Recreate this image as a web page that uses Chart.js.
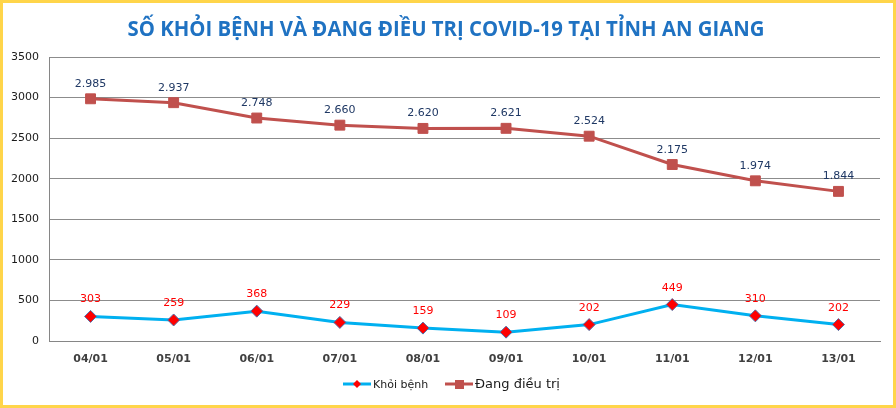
<!DOCTYPE html>
<html><head><meta charset="utf-8">
<script src="https://cdn.jsdelivr.net/npm/chart.js@4"></script>
<style>
html,body{margin:0;padding:0;background:#fff;}
#wrap{width:896px;height:408px;box-sizing:border-box;border:3px solid #FFD54A;position:relative;}
canvas{display:block;}
</style></head><body>
<div id="wrap"><canvas id="c" width="890" height="402"></canvas></div>
<script>
const titleText = 'SỐ KHỎI BỆNH VÀ ĐANG ĐIỀU TRỊ COVID-19 TẠI TỈNH AN GIANG';
const categories = ['04/01','05/01','06/01','07/01','08/01','09/01','10/01','11/01','12/01','13/01'];
const khoiBenh = [303,259,368,229,159,109,202,449,310,202];
const dangDieuTri = [2985,2937,2748,2660,2620,2621,2524,2175,1974,1844];
const yTicks = [0,500,1000,1500,2000,2500,3000,3500];

const FONT = '"DejaVu Sans", sans-serif';

function fmt(v){ return String(v).replace(/\B(?=(\d{3})+(?!\d))/g,'.'); }

const decor = {
  id:'decor',
  afterDraw(chart){
    const ctx = chart.ctx;
    // title
    ctx.save();
    ctx.font = 'bold 22px "Open Sans", sans-serif';
    ctx.fillStyle = '#1F72C2';
    ctx.textBaseline = 'middle';
    const w = ctx.measureText(titleText).width;
    const target = 637;
    ctx.translate(443, 27);
    ctx.scale(target / w, 1);
    ctx.textAlign = 'center';
    ctx.fillText(titleText, 0, 0);
    ctx.restore();

    // data labels
    ctx.save();
    ctx.textAlign = 'center';
    ctx.textBaseline = 'alphabetic';
    chart.data.datasets.forEach((ds, i) => {
      const meta = chart.getDatasetMeta(i);
      ctx.font = '11px ' + FONT;
      ctx.fillStyle = i === 0 ? '#FF0000' : '#1F3864';
      meta.data.forEach((pt, j) => {
        ctx.fillText(fmt(ds.data[j]), pt.x, pt.y - (i === 0 ? 14 : 12));
      });
    });
    ctx.restore();

    // legend
    ctx.save();
    const ly = 381;
    ctx.lineWidth = 3;
    let x0 = 340;
    ctx.strokeStyle = '#00B0F0';
    ctx.beginPath(); ctx.moveTo(x0, ly); ctx.lineTo(x0+28, ly); ctx.stroke();
    ctx.fillStyle = '#FF0000';
    ctx.beginPath(); ctx.moveTo(x0+14, ly-4); ctx.lineTo(x0+18, ly); ctx.lineTo(x0+14, ly+4); ctx.lineTo(x0+10, ly); ctx.closePath(); ctx.fill();
    ctx.fillStyle = '#1a1a1a';
    ctx.font = '11px ' + FONT;
    ctx.textBaseline = 'middle';
    ctx.textAlign = 'left';
    ctx.fillText('Khỏi bệnh', x0+30, ly+1);
    let x1 = 442;
    ctx.strokeStyle = '#C0504D';
    ctx.beginPath(); ctx.moveTo(x1, ly); ctx.lineTo(x1+28, ly); ctx.stroke();
    ctx.fillStyle = '#C0504D';
    ctx.fillRect(x1+10, ly-4, 9, 9);
    ctx.fillStyle = '#1a1a1a';
    ctx.font = '13px ' + FONT;
    ctx.fillText('Đang điều trị', x1+30, ly+1);
    ctx.restore();
  }
};

new Chart(document.getElementById('c'), {
  type:'line',
  data:{
    labels: categories,
    datasets:[
      {label:'Khỏi bệnh', data:khoiBenh, borderColor:'#00B0F0', borderWidth:3,
       pointStyle:'rectRot', pointRadius:6, pointBackgroundColor:'#FF0000', pointBorderColor:'#4F6FA8', pointBorderWidth:1, tension:0},
      {label:'Đang điều trị', data:dangDieuTri, borderColor:'#C0504D', borderWidth:3,
       pointStyle:'rect', pointRadius:7, pointBackgroundColor:'#C0504D', pointBorderColor:'#C0504D', pointBorderWidth:1, tension:0}
    ]
  },
  options:{
    responsive:false, animation:false,
    layout:{padding:{top:54,right:13,bottom:34,left:0}},
    plugins:{legend:{display:false}, title:{display:false}, tooltip:{enabled:false}},
    scales:{
      x:{
        offset:true,
        grid:{display:false, drawTicks:false},
        border:{display:true, color:'#868686', width:1},
        ticks:{color:'#404040', font:{family:FONT, size:11, weight:'bold'}, padding:12, maxRotation:0},
        afterFit(s){ s.height = 30; }
      },
      y:{
        min:0, max:3500,
        afterBuildTicks(s){ s.ticks = yTicks.map(v=>({value:v})); },
        grid:{color:'#8C8C8C', lineWidth:1, drawTicks:false},
        border:{display:true, color:'#868686', width:1},
        ticks:{color:'#1a1a1a', font:{family:FONT, size:11}, padding:10, callback:(v)=>String(v)},
        afterFit(s){ s.width = 46; }
      }
    }
  },
  plugins:[decor]
});
</script>
</body></html>
